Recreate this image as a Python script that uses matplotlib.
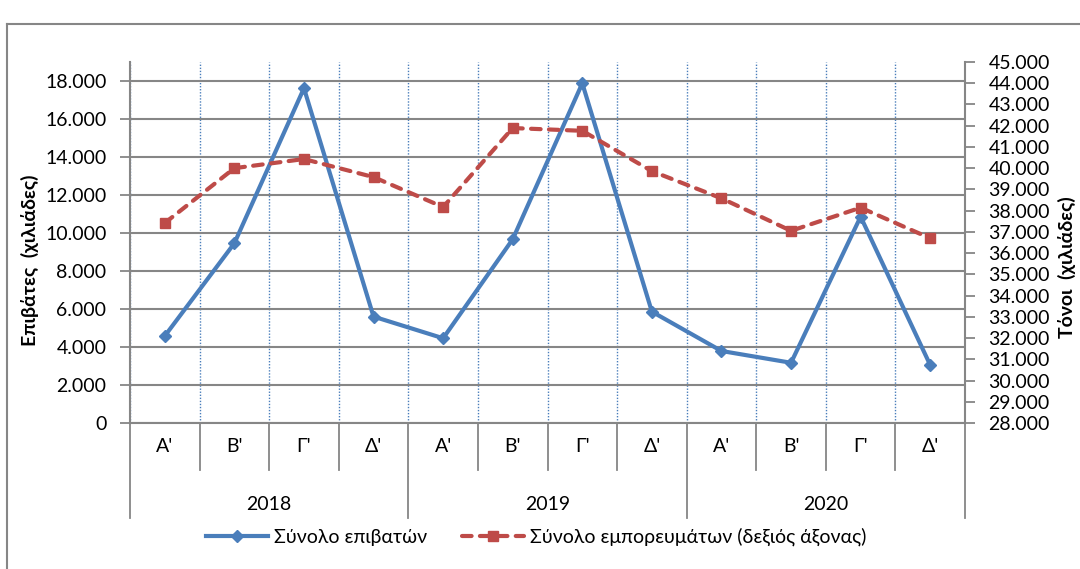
import matplotlib
matplotlib.use("Agg")
import matplotlib.pyplot as plt
import matplotlib.transforms as mtransforms
from matplotlib.lines import Line2D
import numpy as np

plt.rcParams['font.family'] = ['Lato', 'Noto Sans', 'DejaVu Sans']

# ---- data ----
years = ["2018", "2019", "2020"]
quarters = ["Α'", "Β'", "Γ'", "Δ'"]
passengers = [4580, 9460, 17620, 5600, 4460, 9670, 17880, 5860, 3790, 3170, 10860, 3050]
freight = [37420, 40000, 40430, 39580, 38170, 41890, 41760, 39860, 38580, 37050, 38140, 36700]
left_ticks = list(range(0, 18001, 2000))
right_ticks = list(range(28000, 45001, 1000))
series_names = ["Σύνολο επιβατών", "Σύνολο εμπορευμάτων (δεξιός άξονας)"]
ylabel_left = "Επιβάτες  (χιλιάδες)"
ylabel_right = "Τόνοι  (χιλιάδες)"

BLUE = "#4a7ebb"
RED = "#be4b48"
GRAY = "#868686"
FS = 14

W, H = 1080, 569
fig = plt.figure(figsize=(W / 100, H / 100), dpi=100)

L, R, B, T = 130, 965, 423, 62
ax1 = fig.add_axes([L / W, 1 - B / H, (R - L) / W, (B - T) / H])
ax2 = ax1.twinx()

n = len(passengers)
x = np.arange(n)

def fmt(v):
    return f"{v:,.0f}".replace(",", ".")

# left axis
ax1.set_xlim(-0.5, n - 0.5)
ax1.set_ylim(0, 19000)
ax1.set_yticks(left_ticks)
ax1.set_yticklabels([fmt(v) for v in left_ticks], fontsize=FS)
ax1.tick_params(axis='y', direction='out', length=7, width=1.3, color=GRAY, pad=10)
ax1.set_xticks([])
ax1.set_xticks(np.arange(-0.5, n, 1), minor=True)
ax1.tick_params(axis='x', which='minor', length=0)
ax1.grid(axis='y', which='major', color=GRAY, linewidth=1.5, zorder=0)
ax1.grid(axis='x', which='minor', color=BLUE, linewidth=1.0, linestyle=(0, (1, 1.2)), zorder=0)
ax1.set_axisbelow(True)
for s in ['top', 'right']:
    ax1.spines[s].set_visible(False)
for s in ['left', 'bottom']:
    ax1.spines[s].set_color(GRAY)
    ax1.spines[s].set_linewidth(1.5)

ax1.plot(x, passengers, color=BLUE, linewidth=3.0, marker='D', markersize=6,
         solid_joinstyle='miter', zorder=3, label=series_names[0])

# right axis
ax2.set_ylim(28000, 45000)
ax2.set_yticks(right_ticks)
ax2.set_yticklabels([fmt(v) for v in right_ticks], fontsize=FS)
ax2.tick_params(axis='y', direction='out', length=7, width=1.3, color=GRAY, pad=10)
for s in ['top', 'left', 'bottom']:
    ax2.spines[s].set_visible(False)
ax2.spines['right'].set_color(GRAY)
ax2.spines['right'].set_linewidth(1.5)
ax2.plot(x, freight, color=RED, linewidth=3.0, linestyle=(0, (2.3, 2.0)),
         dash_capstyle='round', marker='s', markersize=7, zorder=4,
         label=series_names[1])

# category axis (multi-level)
trans = mtransforms.blended_transform_factory(ax1.transData, ax1.transAxes)
ph = (B - T)
def ay(py):
    return (B - py) / ph

for i, q in enumerate(x):
    ax1.text(q, ay(446), quarters[i % 4], transform=trans, ha='center', va='center',
             fontsize=FS, clip_on=False)
for j, yr in enumerate(years):
    ax1.text(j * 4 + 1.5, ay(505), yr, transform=trans, ha='center', va='center',
             fontsize=FS, clip_on=False)
for k in range(n + 1):
    bx = k - 0.5
    low = ay(518) if k % 4 == 0 else ay(470)
    ax1.add_line(Line2D([bx, bx], [0, low], transform=trans, color=GRAY,
                        linewidth=1.3, clip_on=False))

# axis titles
fig.text(30 / W, 1 - 260 / H, ylabel_left, rotation=90, ha='center', va='center',
         fontsize=FS, fontweight='bold')
fig.text(1067 / W, 1 - 267 / H, ylabel_right, rotation=90, ha='center', va='center',
         fontsize=FS, fontweight='bold')

# legend
h1, l1 = ax1.get_legend_handles_labels()
h2, l2 = ax2.get_legend_handles_labels()
fig.legend(h1 + h2, l1 + l2, loc='center', bbox_to_anchor=(536 / W, 1 - 537 / H),
           ncol=2, frameon=False, fontsize=FS, handlelength=3.2, handletextpad=0.3,
           columnspacing=1.8)

# outer border
fig.add_artist(Line2D([7 / W, 1.01], [1 - 24 / H, 1 - 24 / H], transform=fig.transFigure,
                      color=GRAY, linewidth=1.5))
fig.add_artist(Line2D([7 / W, 7 / W], [1 - 24 / H, -0.01], transform=fig.transFigure,
                      color=GRAY, linewidth=1.5))

fig.savefig("out.png", dpi=100)
